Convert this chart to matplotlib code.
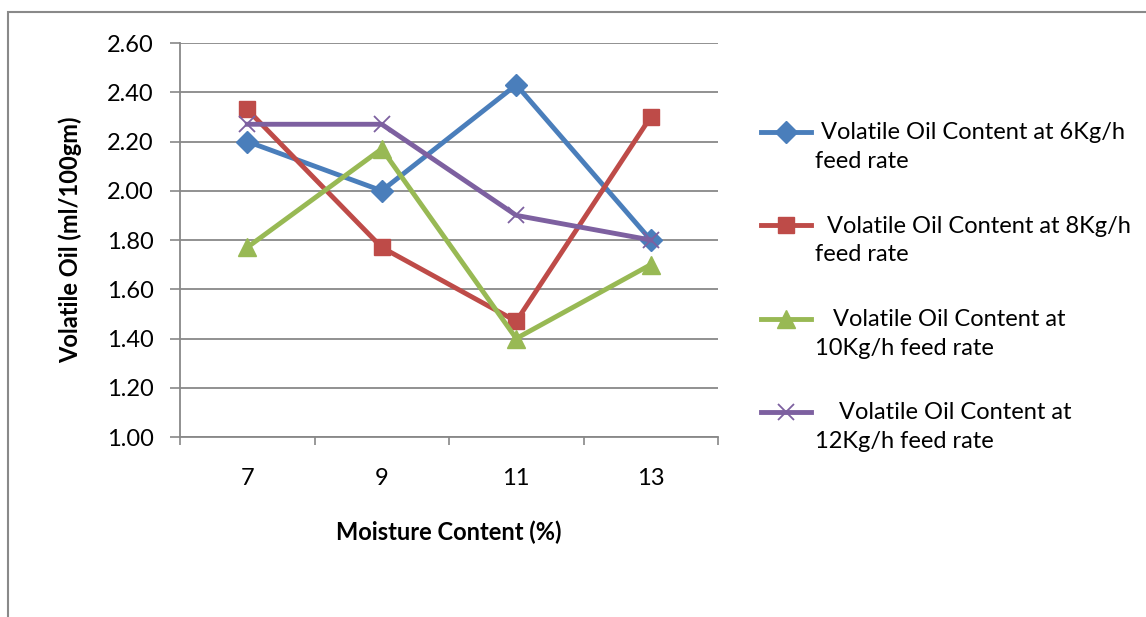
import matplotlib
matplotlib.use("Agg")
import matplotlib.pyplot as plt
import numpy as np
from matplotlib.patches import Rectangle
from matplotlib.legend_handler import HandlerLine2D

plt.rcParams['font.family'] = ['Lato', 'DejaVu Sans']

# moisture levels and volatile oil readings for each feed rate
moisture = ['7', '9', '11', '13']
oil_6kg = [2.20, 2.00, 2.43, 1.80]
oil_8kg = [2.33, 1.77, 1.47, 2.30]
oil_10kg = [1.77, 2.17, 1.40, 1.70]
oil_12kg = [2.27, 2.27, 1.90, 1.80]

labels = [' Volatile Oil Content at 6Kg/h\nfeed rate',
          '  Volatile Oil Content at 8Kg/h\nfeed rate',
          '   Volatile Oil Content at\n10Kg/h feed rate',
          '    Volatile Oil Content at\n12Kg/h feed rate']


class TopLineHandler(HandlerLine2D):
    # put the legend line next to the first text line instead of the middle
    def create_artists(self, legend, orig_handle, xdescent, ydescent,
                       width, height, fontsize, trans):
        arts = super().create_artists(legend, orig_handle, xdescent, ydescent,
                                      width, height, fontsize, trans)
        for a in arts:
            a.set_ydata(np.asarray(a.get_ydata()) + 0.66 * fontsize)
        return arts


fig = plt.figure(figsize=(11.46, 6.17), dpi=100)
ax = fig.add_axes([180/1146, 1-437/617, (718-180)/1146, (437-43)/617])

# outer chart frame
fig.patches.append(Rectangle((8/1146, -0.1), 1.2, 1-12/617+0.1, transform=fig.transFigure,
                             fill=False, edgecolor='#898989', linewidth=1.5))

x = np.arange(len(moisture))
ax.plot(x, oil_6kg, color='#4A7EBB', lw=3.5, marker='D', ms=11, label=labels[0])
ax.plot(x, oil_8kg, color='#BE4B48', lw=3.5, marker='s', ms=12, label=labels[1])
ax.plot(x, oil_10kg, color='#98B954', lw=3.5, marker='^', ms=13, label=labels[2])
ax.plot(x, oil_12kg, color='#7D60A0', lw=3.5, marker='x', ms=11, mew=1.3, label=labels[3])

ax.set_xlim(-0.5, 3.5)
ax.set_ylim(1.0, 2.6)
ax.set_yticks(np.arange(1.0, 2.61, 0.2))
ax.set_yticklabels(['%.2f' % v for v in np.arange(1.0, 2.61, 0.2)], fontsize=17)
ax.set_xticks(np.arange(-0.5, 3.6, 1.0))
ax.set_xticklabels([])
ax.set_xticks(x, minor=True)
ax.set_xticklabels(moisture, minor=True, fontsize=17)
ax.tick_params(axis='x', which='minor', length=0, pad=22)
ax.tick_params(axis='x', which='major', length=6, color='#888888', width=1.2)
ax.tick_params(axis='y', length=7, color='#888888', width=1.2, pad=12)

ax.yaxis.grid(True, color='#888888', linewidth=1.3)
ax.set_axisbelow(True)
for s in ['top', 'right']:
    ax.spines[s].set_visible(False)
for s in ['left', 'bottom']:
    ax.spines[s].set_color('#888888')
    ax.spines[s].set_linewidth(1.3)

ax.set_xlabel('Moisture Content (%)', fontsize=17, fontweight='bold', labelpad=23)
ax.set_ylabel('Volatile Oil (ml/100gm)', fontsize=17, fontweight='bold', labelpad=18)

leg = fig.legend(loc='upper left', bbox_to_anchor=(752/1146, 1-113/617), frameon=False,
                 fontsize=17, handlelength=2.1, handletextpad=0.15, labelspacing=1.85,
                 borderaxespad=0, handler_map={plt.Line2D: TopLineHandler()})
for t in leg.get_texts():
    t.set_linespacing(1.45)

fig.savefig('out.png', dpi=100)
